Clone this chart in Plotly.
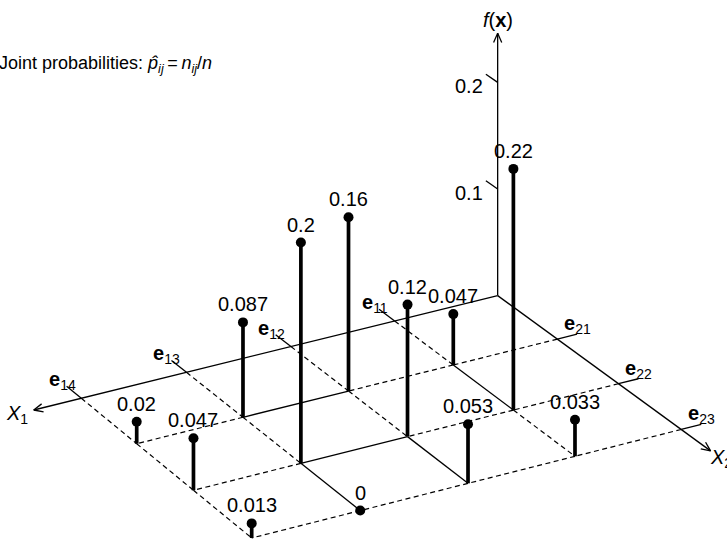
import math
import plotly.graph_objects as go

# ------------------------------------------------------------------ data
x1_levels = ["11", "12", "13", "14"]          # e_1i  (levels of X1)
x2_levels = ["21", "22", "23"]                # e_2j  (levels of X2)
# joint probabilities p_ij : one list per X1 level, entries over X2 levels
p_e11 = [0.047, 0.22, 0.033]
p_e12 = [0.16, 0.12, 0.053]
p_e13 = [0.087, 0.2, 0]
p_e14 = [0.02, 0.047, 0.013]
f_tick_values = [0.1, 0.2]
f_tick_labels = ["0.1", "0.2"]
title_text = ("Joint probabilities: <i>p\u0302</i><sub><i>ij</i></sub>\u2009=\u2009"
              "<i>n</i><sub><i>ij</i></sub>/<i>n</i>")

# grid segments drawn solid (the rest of the grid is dashed): ((i,j),(i,j))
solid_segments = [((1, 1), (1, 2)), ((2, 1), (3, 1)), ((2, 2), (2, 3)),
                  ((2, 2), (3, 2)), ((3, 2), (3, 3))]

# ------------------------------------------------------------------ view / style
ORIGIN = (497.66, 295.6)
U = (-104.37, 24.284)       # one X1 level step
V = (52.97, 39.443)         # one X2 level step
PERSP = (0.003475, 0.012055)
ZSCALE = 1066.0             # screen length of f = 1 at the origin
X1_LEN, X2_LEN, F_LEN = 4.45, 3.46, 0.246
TICK1 = 0.27                # X1 category tick length (in X2 units)
TICK2 = 0.19                # X2 category tick length (in X1 units)
F_TICK = 0.2
FONT = "Liberation Sans, Arial, Helvetica, sans-serif"
FS = 20
TITLE_FS = 18
BLACK = "black"
DASH = "5px,3.5px"


def proj(a, b, z=0.0):
    d = 1.0 - PERSP[0] * a - PERSP[1] * b
    x = (ORIGIN[0] + U[0] * a + V[0] * b) / d
    y = (ORIGIN[1] + U[1] * a + V[1] * b) / d - z * ZSCALE / d
    return x, y


def seg_trace(segs, width, dash="solid", color=BLACK):
    xs, ys = [], []
    for p, q in segs:
        xs += [p[0], q[0], None]
        ys += [p[1], q[1], None]
    return go.Scatter(x=xs, y=ys, mode="lines", hoverinfo="skip",
                      line=dict(color=color, width=width, dash=dash))


def arrow_barbs(tip, before, length=10.0, half_angle=24.0):
    dx, dy = tip[0] - before[0], tip[1] - before[1]
    n = math.hypot(dx, dy)
    dx, dy = dx / n, dy / n
    segs = []
    for s in (1, -1):
        a = math.radians(half_angle) * s
        rx = dx * math.cos(a) - dy * math.sin(a)
        ry = dx * math.sin(a) + dy * math.cos(a)
        segs.append((tip, (tip[0] - length * rx, tip[1] - length * ry)))
    return segs


probs = [p_e11, p_e12, p_e13, p_e14]
n1, n2 = len(x1_levels), len(x2_levels)

traces = []

# ---- grid lines (lines through every level, from the axes outwards)
solid_set = set()
for p, q in solid_segments:
    solid_set.add((p, q))
    solid_set.add((q, p))
grid_dashed, grid_solid = [], []
for i in range(1, n1 + 1):
    for j in range(0, n2):
        seg = ((i, j), (i, j + 1))
        (grid_solid if seg in solid_set else grid_dashed).append(
            (proj(i, j), proj(i, j + 1)))
for j in range(1, n2 + 1):
    for i in range(0, n1):
        seg = ((i, j), (i + 1, j))
        (grid_solid if seg in solid_set else grid_dashed).append(
            (proj(i, j), proj(i + 1, j)))
traces.append(seg_trace(grid_dashed, 1.2, DASH))
traces.append(seg_trace(grid_solid, 1.3))

# ---- axes
axes = [(proj(0, 0), proj(X1_LEN, 0)),
        (proj(0, 0), proj(0, X2_LEN)),
        (proj(0, 0), proj(0, 0, F_LEN))]
axes += arrow_barbs(proj(X1_LEN, 0), proj(X1_LEN - 0.5, 0))
axes += arrow_barbs(proj(0, X2_LEN), proj(0, X2_LEN - 0.5))
axes += arrow_barbs(proj(0, 0, F_LEN), proj(0, 0, F_LEN - 0.05))
# category ticks
for i in range(1, n1 + 1):
    axes.append((proj(i, 0), proj(i, -TICK1)))
for j in range(1, n2 + 1):
    axes.append((proj(0, j), proj(-TICK2, j)))
# f ticks
for t in f_tick_values:
    axes.append((proj(0, 0, t), proj(0, -F_TICK, t)))
traces.append(seg_trace(axes, 1.3))

# ---- stems and dots
stems, dot_x, dot_y = [], [], []
for i in range(n1):
    for j in range(n2):
        v = probs[i][j]
        base = proj(i + 1, j + 1)
        top = proj(i + 1, j + 1, v)
        stems.append((base, top))
        dot_x.append(top[0])
        dot_y.append(top[1])
traces.append(seg_trace(stems, 3.7))
traces.append(go.Scatter(x=dot_x, y=dot_y, mode="markers", hoverinfo="skip",
                         marker=dict(color=BLACK, size=10, line=dict(width=0))))

fig = go.Figure(traces)

ann = []


def add_text(x, y, text, xanchor="center", yanchor="middle", xshift=0, yshift=0, size=FS):
    ann.append(dict(x=x, y=y, xref="x", yref="y", text=text, showarrow=False,
                    xanchor=xanchor, yanchor=yanchor, xshift=xshift, yshift=yshift,
                    font=dict(family=FONT, size=size, color=BLACK)))


# value labels
k = 0
for i in range(n1):
    for j in range(n2):
        add_text(dot_x[k], dot_y[k], f"{probs[i][j]:g}", yshift=18)
        k += 1

# category labels
for i, lab in enumerate(x1_levels, start=1):
    tx, ty = proj(i, -TICK1)
    add_text(tx, ty, f"<b>e</b><sub>{lab}</sub>", xanchor="right",
             yanchor="bottom", xshift=11, yshift=-9)
for j, lab in enumerate(x2_levels, start=1):
    tx, ty = proj(-TICK2, j)
    add_text(tx, ty, f"<b>e</b><sub>{lab}</sub>", xanchor="center",
             yanchor="bottom", xshift=0, yshift=-5)

# f tick labels
for t, lab in zip(f_tick_values, f_tick_labels):
    tx, _ = proj(0, -F_TICK, t)
    _, ty = proj(0, 0, t)
    add_text(tx, ty, lab, xanchor="right", yanchor="middle", xshift=-1, yshift=-4)

# axis titles
tx, ty = proj(X1_LEN, 0)
add_text(tx, ty, "<i>X</i><sub>1</sub>", xanchor="right", yanchor="middle",
         xshift=-4, yshift=-4)
tx, ty = proj(0, X2_LEN)
add_text(tx, ty, "<i>X</i><sub>2</sub>", xanchor="left", yanchor="middle",
         xshift=-3, yshift=-8)
tx, ty = proj(0, 0, F_LEN)
add_text(tx, ty, "<i>f</i>(<b>x</b>)", xanchor="center", yanchor="bottom",
         xshift=0, yshift=0)

# headline
add_text(0, 64, title_text, xanchor="left", yanchor="middle", xshift=-3,
         size=TITLE_FS)

fig.update_layout(
    width=727, height=543,
    margin=dict(l=0, r=0, t=0, b=0),
    paper_bgcolor="white", plot_bgcolor="white",
    showlegend=False,
    xaxis=dict(range=[0, 727], visible=False, fixedrange=True),
    yaxis=dict(range=[543, 0], visible=False, fixedrange=True),
    annotations=ann,
)

fig.write_html(
    "out.html",
    config={"displayModeBar": False},
    post_script=("document.body.style.margin='0';"
                 "document.body.style.padding='0';"
                 "document.body.style.overflow='hidden';"),
)
